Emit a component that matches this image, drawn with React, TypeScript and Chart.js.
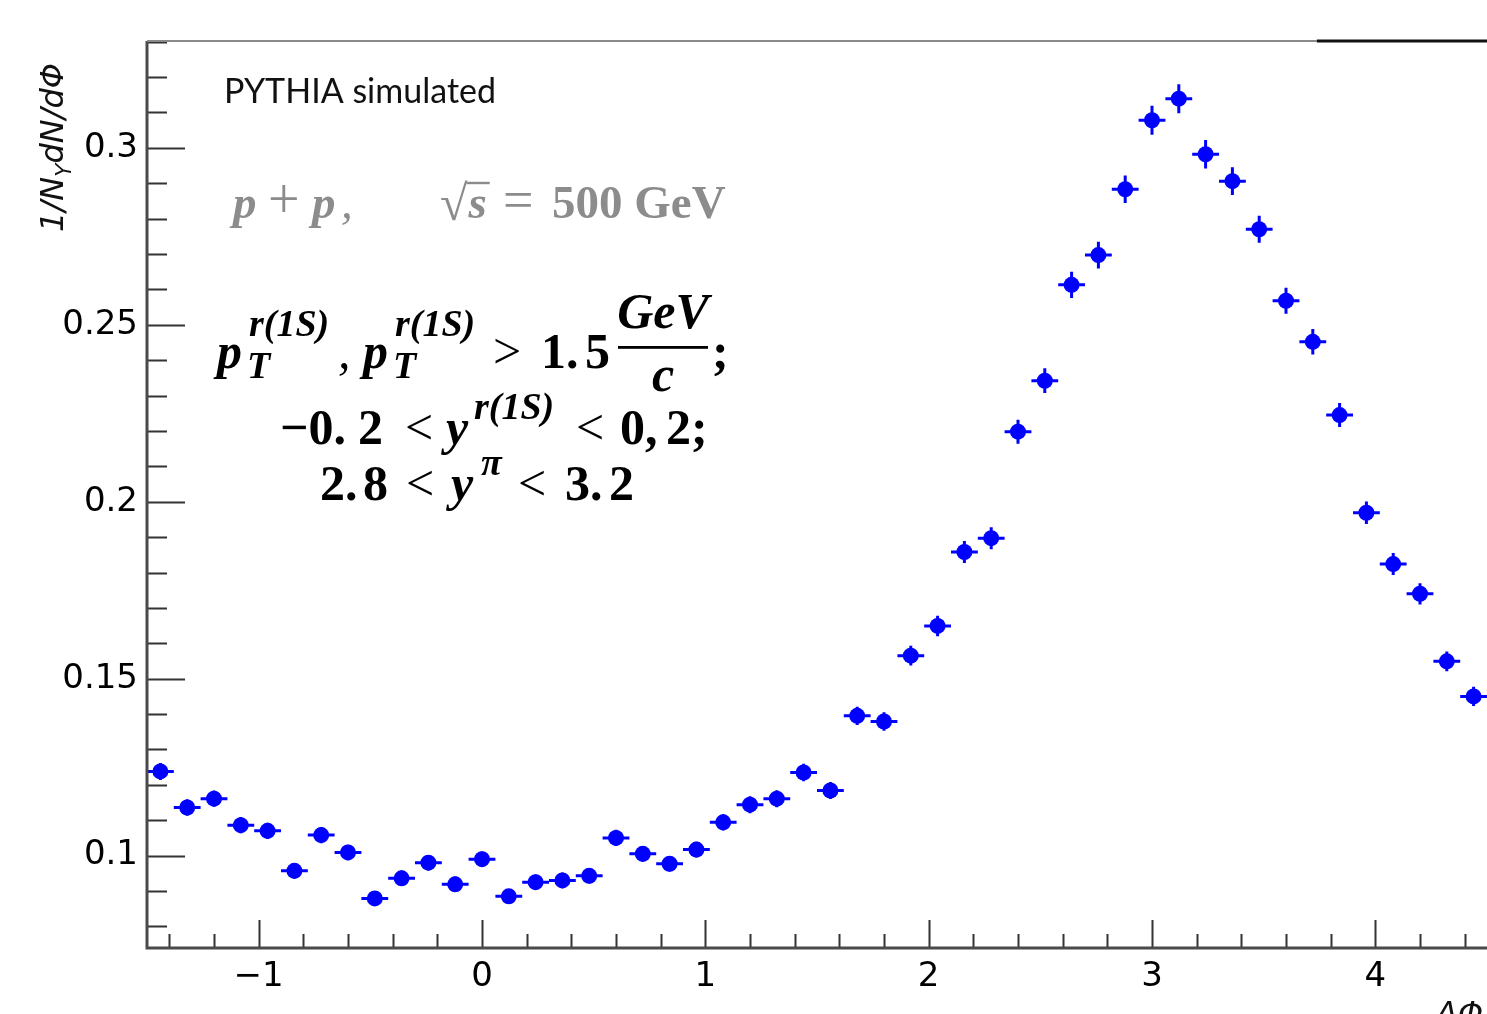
import React, { useEffect, useRef } from "react";
import { Chart, registerables } from "chart.js";

Chart.register(...registerables);

// ---------------- data ----------------
const BIN_CENTERS = [
  -1.44, -1.32, -1.2, -1.08, -0.96, -0.84, -0.72, -0.6, -0.48, -0.36,
  -0.24, -0.12, 0.0, 0.12, 0.24, 0.36, 0.48, 0.6, 0.72, 0.84,
  0.96, 1.08, 1.2, 1.32, 1.44, 1.56, 1.68, 1.8, 1.92, 2.04,
  2.16, 2.28, 2.4, 2.52, 2.64, 2.76, 2.88, 3.0, 3.12, 3.24,
  3.36, 3.48, 3.6, 3.72, 3.84, 3.96, 4.08, 4.2, 4.32, 4.44,
];
const VALUES = [
  0.1238, 0.1136, 0.1161, 0.1086, 0.107, 0.0957, 0.1058, 0.1009, 0.0879, 0.0936,
  0.098, 0.0919, 0.099, 0.0885, 0.0925, 0.093, 0.0943, 0.105, 0.1005, 0.0977,
  0.1017, 0.1094, 0.1144, 0.1161, 0.1235, 0.1184, 0.1395, 0.1379, 0.1565, 0.1649,
  0.1858, 0.1897, 0.2198, 0.2342, 0.2613, 0.2697, 0.2883, 0.3078, 0.3139, 0.2982,
  0.2906, 0.277, 0.2568, 0.2452, 0.2245, 0.1969, 0.1824, 0.174, 0.1549, 0.145,
];
const ERRORS = [
  0.0024, 0.0023, 0.0023, 0.0023, 0.0023, 0.0022, 0.0023, 0.0022, 0.0021, 0.0022,
  0.0022, 0.0022, 0.0022, 0.0021, 0.0022, 0.0022, 0.0022, 0.0023, 0.0022, 0.0022,
  0.0022, 0.0023, 0.0024, 0.0024, 0.0025, 0.0024, 0.0026, 0.0026, 0.0028, 0.0029,
  0.0031, 0.0031, 0.0034, 0.0035, 0.0037, 0.0038, 0.0039, 0.0041, 0.0041, 0.004,
  0.0039, 0.0038, 0.0037, 0.0036, 0.0034, 0.0032, 0.0031, 0.003, 0.0028, 0.0027,
];
const BIN_HALF_WIDTH = 0.06;

const X_MIN = -1.5;
const X_MAX = 4.5;
const Y_MIN = 0.0739;
const Y_MAX = 0.3302;

const X_TICKS = [-1, 0, 1, 2, 3, 4];
const X_TICK_LABELS = ["\u22121", "0", "1", "2", "3", "4"];
const X_MINOR_STEP = 0.2;
const Y_TICKS = [0.1, 0.15, 0.2, 0.25, 0.3];
const Y_TICK_LABELS = ["0.1", "0.15", "0.2", "0.25", "0.3"];
const Y_MINOR_STEP = 0.01;

const Y_TITLE_MAIN = "1/N";
const Y_TITLE_SUB = "\u03A5";
const Y_TITLE_REST = "dN/d\u03A6";
const X_TITLE = "\u0394\u03A6";

const BLUE = "#0000ff";
const SERIF = '"Liberation Serif"';
const f = (style: string, size: number) => `${style} ${size}px ${SERIF}`;

type Run = { t: string; f: string; x: number; dy?: number };

function drawRuns(ctx: CanvasRenderingContext2D, y0: number, runs: Run[]) {
  for (const r of runs) {
    ctx.font = r.f;
    ctx.fillText(r.t, r.x, y0 + (r.dy || 0));
  }
}

const errorBars = {
  id: "errorBars",
  afterDatasetsDraw(chart: any) {
    const ctx = chart.ctx;
    const xs = chart.scales.x;
    const ys = chart.scales.y;
    ctx.save();
    ctx.strokeStyle = BLUE;
    ctx.lineWidth = 3;
    BIN_CENTERS.forEach((c, i) => {
      const px = xs.getPixelForValue(c);
      const py = ys.getPixelForValue(VALUES[i]);
      const x1 = xs.getPixelForValue(c - BIN_HALF_WIDTH);
      const x2 = xs.getPixelForValue(c + BIN_HALF_WIDTH);
      const y1 = ys.getPixelForValue(VALUES[i] + ERRORS[i]);
      const y2 = ys.getPixelForValue(VALUES[i] - ERRORS[i]);
      ctx.beginPath();
      ctx.moveTo(x1, py);
      ctx.lineTo(x2, py);
      ctx.moveTo(px, y1);
      ctx.lineTo(px, y2);
      ctx.stroke();
    });
    ctx.restore();
  },
};

const frame = {
  id: "frame",
  afterDraw(chart: any) {
    const ctx = chart.ctx;
    const { left, right, top, bottom } = chart.chartArea;
    const xs = chart.scales.x;
    const ys = chart.scales.y;
    ctx.save();
    ctx.strokeStyle = "#333";
    ctx.lineWidth = 2;
    ctx.beginPath();
    const nx0 = Math.ceil(X_MIN / X_MINOR_STEP - 1e-6);
    const nx1 = Math.floor(X_MAX / X_MINOR_STEP + 1e-6);
    for (let k = nx0; k <= nx1; k++) {
      const v = k * X_MINOR_STEP;
      const isMajor = Math.abs(v - Math.round(v)) < 1e-6;
      const px = Math.round(xs.getPixelForValue(v)) + 0.5;
      ctx.moveTo(px, bottom);
      ctx.lineTo(px, bottom - (isMajor ? 28 : 14));
    }
    const ny0 = Math.ceil(Y_MIN / Y_MINOR_STEP - 1e-6);
    const ny1 = Math.floor(Y_MAX / Y_MINOR_STEP + 1e-6);
    for (let k = ny0; k <= ny1; k++) {
      const v = k * Y_MINOR_STEP;
      const isMajor = k % 5 === 0;
      const py = Math.round(ys.getPixelForValue(v)) + 0.5;
      ctx.moveTo(left, py);
      ctx.lineTo(left + (isMajor ? 38 : 20), py);
    }
    ctx.stroke();
    ctx.strokeStyle = "#4a4a4a";
    ctx.lineWidth = 3;
    ctx.beginPath();
    ctx.moveTo(left, top);
    ctx.lineTo(left, bottom);
    ctx.lineTo(right, bottom);
    ctx.stroke();
    const split = left + (right - left) * 0.873;
    ctx.strokeStyle = "#8a8a8a";
    ctx.lineWidth = 2.2;
    ctx.beginPath();
    ctx.moveTo(left, top);
    ctx.lineTo(split, top);
    ctx.stroke();
    ctx.strokeStyle = "#111";
    ctx.lineWidth = 3;
    ctx.beginPath();
    ctx.moveTo(split, top);
    ctx.lineTo(right, top);
    ctx.stroke();
    ctx.restore();
  },
};

const annotations = {
  id: "annotations",
  afterDraw(chart: any) {
    const ctx: CanvasRenderingContext2D = chart.ctx;
    ctx.save();
    ctx.textBaseline = "alphabetic";
    ctx.textAlign = "left";

    // PYTHIA simulated
    ctx.fillStyle = "#111";
    ctx.font = "34px Lato";
    ctx.fillText("PYTHIA simulated", 224, 103);

    // p + p,  sqrt(s) = 500 GeV
    ctx.fillStyle = "#8c8c8c";
    const G = 47;
    drawRuns(ctx, 218, [
      { t: "p", f: f("italic bold", G), x: 233 },
      { t: "+", f: f("normal", 56), x: 268 },
      { t: "p", f: f("italic bold", G), x: 312 },
      { t: ",", f: f("italic", G), x: 341 },
    ]);
    ctx.font = f("normal", 50);
    const rx = 440;
    ctx.fillText("\u221A", rx, 220);
    const rEnd = rx + ctx.measureText("\u221A").width;
    ctx.font = f("italic bold", G);
    ctx.fillText("s", rEnd + 1, 218);
    const sEnd = rEnd + 1 + ctx.measureText("s").width;
    ctx.strokeStyle = "#8c8c8c";
    ctx.lineWidth = 2.4;
    ctx.beginPath();
    ctx.moveTo(rEnd - 1, 183);
    ctx.lineTo(sEnd + 3, 183);
    ctx.stroke();
    drawRuns(ctx, 218, [
      { t: "=", f: f("normal", 54), x: 503 },
      { t: "500 GeV", f: f("bold", G), x: 552 },
    ]);

    // formula
    ctx.fillStyle = "#000";
    const M = 50;
    const S = 38;
    drawRuns(ctx, 368, [
      { t: "p", f: f("italic bold", M), x: 217 },
      { t: "r(1S)", f: f("italic bold", S), x: 249, dy: -32 },
      { t: "T", f: f("italic bold", S), x: 247, dy: 10 },
      { t: ",", f: f("italic", M), x: 338 },
      { t: "p", f: f("italic bold", M), x: 363 },
      { t: "r(1S)", f: f("italic bold", S), x: 395, dy: -32 },
      { t: "T", f: f("italic bold", S), x: 393, dy: 10 },
      { t: ">", f: f("normal", M), x: 493 },
      { t: "1.", f: f("bold", M), x: 541 },
      { t: "5", f: f("bold", M), x: 585 },
    ]);
    ctx.font = f("italic bold", M);
    const numW = ctx.measureText("GeV").width;
    const fracC = 663;
    ctx.fillText("GeV", fracC - numW / 2, 328);
    const cW = ctx.measureText("c").width;
    ctx.fillText("c", fracC - cW / 2, 391);
    ctx.fillRect(618, 346, 90, 2.8);
    ctx.font = f("bold", M);
    ctx.fillText(";", 712, 368);

    drawRuns(ctx, 444, [
      { t: "\u22120.", f: f("bold", M), x: 280 },
      { t: "2", f: f("bold", M), x: 358 },
      { t: "<", f: f("normal", M), x: 405 },
      { t: "y", f: f("italic bold", M), x: 446 },
      { t: "r(1S)", f: f("italic bold", S), x: 474, dy: -25 },
      { t: "<", f: f("normal", M), x: 576 },
      { t: "0,", f: f("bold", M), x: 620 },
      { t: "2;", f: f("bold", M), x: 666 },
    ]);

    drawRuns(ctx, 500, [
      { t: "2.", f: f("bold", M), x: 320 },
      { t: "8", f: f("bold", M), x: 363 },
      { t: "<", f: f("normal", M), x: 406 },
      { t: "y", f: f("italic bold", M), x: 451 },
      { t: "\u03C0", f: f("italic bold", S), x: 481, dy: -25 },
      { t: "<", f: f("normal", M), x: 518 },
      { t: "3.", f: f("bold", M), x: 565 },
      { t: "2", f: f("bold", M), x: 609 },
    ]);

    // y axis title
    ctx.fillStyle = "#111";
    ctx.save();
    ctx.translate(63, 232);
    ctx.rotate(-Math.PI / 2);
    ctx.font = 'italic 32px "DejaVu Sans"';
    ctx.fillText(Y_TITLE_MAIN, 0, 0);
    let w = ctx.measureText(Y_TITLE_MAIN).width;
    ctx.font = 'italic 22px "DejaVu Sans"';
    ctx.fillText(Y_TITLE_SUB, w, 8);
    w += ctx.measureText(Y_TITLE_SUB).width;
    ctx.font = 'italic 32px "DejaVu Sans"';
    ctx.fillText(Y_TITLE_REST, w, 0);
    ctx.restore();

    // x axis title
    ctx.font = 'italic 32px "DejaVu Sans"';
    ctx.fillText(X_TITLE, 1436, 1024);
    ctx.restore();
  },
};

export default function App() {
  const ref = useRef<HTMLCanvasElement | null>(null);
  useEffect(() => {
    if (!ref.current) return;
    const chart = new Chart(ref.current, {
      type: "scatter",
      data: {
        datasets: [
          {
            data: BIN_CENTERS.map((x, i) => ({ x, y: VALUES[i] })),
            pointRadius: 8,
            pointBackgroundColor: BLUE,
            pointBorderColor: BLUE,
            pointBorderWidth: 0,
            showLine: false,
          },
        ],
      },
      options: {
        animation: false,
        responsive: false,
        events: [],
        layout: { padding: { left: 0, right: 6, top: 41, bottom: 0 } },
        plugins: { legend: { display: false }, tooltip: { enabled: false } },
        scales: {
          x: {
            type: "linear",
            min: X_MIN,
            max: X_MAX,
            grid: { display: false },
            border: { display: false },
            afterBuildTicks: (s: any) => {
              s.ticks = X_TICKS.map((v) => ({ value: v }));
            },
            afterFit: (s: any) => {
              s.height = 66;
            },
            ticks: {
              autoSkip: false,
              maxRotation: 0,
              padding: 1,
              color: "#000",
              font: { family: "DejaVu Sans", size: 34 },
              callback: (v: any) => {
                const i = X_TICKS.findIndex((t) => Math.abs(t - v) < 1e-9);
                return i >= 0 ? X_TICK_LABELS[i] : "";
              },
            },
          },
          y: {
            type: "linear",
            min: Y_MIN,
            max: Y_MAX,
            grid: { display: false },
            border: { display: false },
            afterBuildTicks: (s: any) => {
              s.ticks = Y_TICKS.map((v) => ({ value: v }));
            },
            afterFit: (s: any) => {
              s.width = 147;
            },
            ticks: {
              autoSkip: false,
              padding: 1,
              color: "#000",
              font: { family: "DejaVu Sans", size: 34 },
              callback: (v: any) => {
                const i = Y_TICKS.findIndex((t) => Math.abs(t - v) < 1e-9);
                return i >= 0 ? Y_TICK_LABELS[i] : "";
              },
            },
          },
        },
      },
      plugins: [errorBars, frame, annotations],
    });
    return () => chart.destroy();
  }, []);

  return (
    <div
      style={{
        position: "fixed",
        left: 0,
        top: 0,
        width: 1487,
        height: 1014,
        overflow: "hidden",
        background: "#fff",
      }}
    >
      <canvas ref={ref} width={1495} height={1014} style={{ display: "block" }} />
    </div>
  );
}
